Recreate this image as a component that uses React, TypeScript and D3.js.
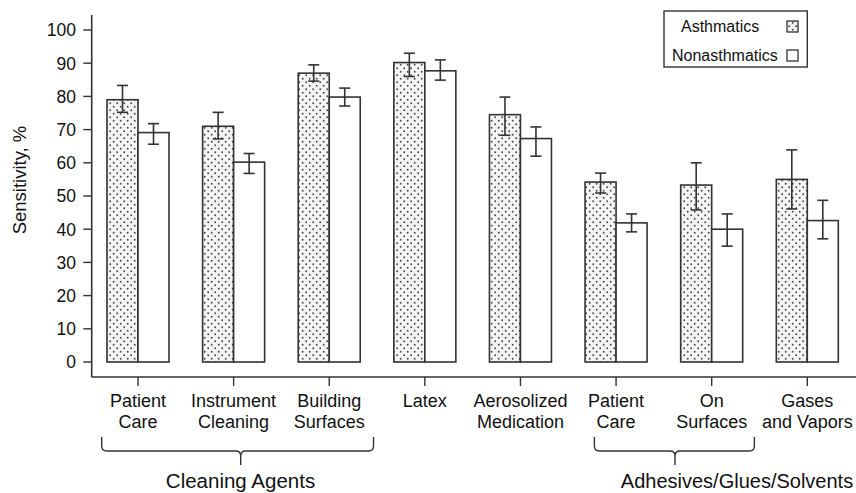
import React from "react";
import * as d3 from "d3";

const categories: string[][] = [
  ["Patient", "Care"],
  ["Instrument", "Cleaning"],
  ["Building", "Surfaces"],
  ["Latex"],
  ["Aerosolized", "Medication"],
  ["Patient", "Care"],
  ["On", "Surfaces"],
  ["Gases", "and Vapors"],
];
const asthmatics = [79, 71, 87, 90.2, 74.5, 54.2, 53.3, 55];
const asthmaLow = [75.2, 67.2, 84.6, 86, 68.3, 50.9, 45.8, 46.1];
const asthmaHigh = [83.3, 75.2, 89.5, 93, 79.8, 56.9, 60.0, 63.9];
const nonasthmatics = [69.1, 60.2, 79.8, 87.7, 67.3, 41.9, 40, 42.6];
const nonLow = [65.6, 56.8, 77.1, 84.9, 62, 39.2, 34.9, 37.1];
const nonHigh = [71.8, 62.8, 82.5, 91, 70.8, 44.6, 44.6, 48.7];
const yTicks = [0, 10, 20, 30, 40, 50, 60, 70, 80, 90, 100];
const groupLabels = ["Cleaning Agents", "Adhesives/Glues/Solvents"];
const seriesNames = ["Asthmatics", "Nonasthmatics"];

const FONT = "'Liberation Sans', Arial, Helvetica, sans-serif";
const LINE = "#333";

export default function App() {
  const W = 856, H = 493;
  const x = d3.scalePoint<number>().domain(d3.range(categories.length)).range([138, 807.3]);
  const y = d3.scaleLinear().domain([0, 100]).range([362, 30]);
  const bw = 31;
  const axisY = 377;
  const axisX = 91.7;

  const brace = (x1: number, x2: number, c: number) => {
    const y0 = 437, y1 = 451, y2 = 465, r = 5;
    const p = d3.path();
    p.moveTo(x1, y0);
    p.lineTo(x1, y1 - r);
    p.quadraticCurveTo(x1, y1, x1 + r, y1);
    p.lineTo(c - r, y1);
    p.quadraticCurveTo(c, y1, c, y1 + r);
    p.lineTo(c, y2);
    p.moveTo(c, y1 + r);
    p.quadraticCurveTo(c, y1, c + r, y1);
    p.lineTo(x2 - r, y1);
    p.quadraticCurveTo(x2, y1, x2, y1 - r);
    p.lineTo(x2, y0);
    return p.toString();
  };

  const errBar = (cx: number, lo: number, hi: number, key: string) => (
    <g key={key} stroke={LINE} strokeWidth={1.6}>
      <line x1={cx} x2={cx} y1={y(lo)} y2={y(hi)} />
      <line x1={cx - 5.5} x2={cx + 5.5} y1={y(lo)} y2={y(lo)} />
      <line x1={cx - 5.5} x2={cx + 5.5} y1={y(hi)} y2={y(hi)} />
    </g>
  );

  return (
    <svg width={W} height={H} style={{ position: "absolute", left: 0, top: 0, background: "#fff" }} fontFamily={FONT}>
      <defs>
        <pattern id="dots" patternUnits="userSpaceOnUse" width="7" height="7">
          <rect width="7" height="7" fill="#f4f4f4" />
          <circle cx="1.7" cy="1.7" r="0.95" fill="#4a4a4a" />
          <circle cx="5.2" cy="5.2" r="0.95" fill="#4a4a4a" />
        </pattern>
      </defs>
      {/* axes */}
      <line x1={axisX} x2={axisX} y1={15} y2={axisY} stroke={LINE} strokeWidth={1.6} />
      <line x1={axisX} x2={W} y1={axisY} y2={axisY} stroke={LINE} strokeWidth={1.6} />
      {yTicks.map((t) => (
        <g key={t}>
          <line x1={83.3} x2={axisX} y1={y(t)} y2={y(t)} stroke={LINE} strokeWidth={1.4} />
          <text x={76} y={y(t)} dy="0.36em" textAnchor="end" fontSize={17.5} fill="#111">{t}</text>
        </g>
      ))}
      <text transform="translate(26,180) rotate(-90)" textAnchor="middle" fontSize={18.5} fill="#111">Sensitivity, %</text>
      {/* bars */}
      {categories.map((c, i) => {
        const cx = x(i)!;
        return (
          <g key={i}>
            <rect x={cx - bw} y={y(asthmatics[i])} width={bw} height={y(0) - y(asthmatics[i])} fill="url(#dots)" stroke={LINE} strokeWidth={1.6} />
            <rect x={cx} y={y(nonasthmatics[i])} width={bw} height={y(0) - y(nonasthmatics[i])} fill="#fff" stroke={LINE} strokeWidth={1.6} />
            {errBar(cx - bw / 2, asthmaLow[i], asthmaHigh[i], "a" + i)}
            {errBar(cx + bw / 2, nonLow[i], nonHigh[i], "n" + i)}
            <line x1={cx} x2={cx} y1={axisY} y2={axisY + 9} stroke={LINE} strokeWidth={1.4} />
            {c.map((s, j) => (
              <text key={j} x={cx} y={407 + j * 21} textAnchor="middle" fontSize={18} fill="#111">{s}</text>
            ))}
          </g>
        );
      })}
      {/* braces */}
      <path d={brace(x(0)! - 36.3, x(2)! + 44.3, 240.7)} fill="none" stroke={LINE} strokeWidth={1.4} />
      <path d={brace(x(5)! - 21.7, x(6)! + 42.7, 675)} fill="none" stroke={LINE} strokeWidth={1.4} />
      <text x={240.5} y={488} textAnchor="middle" fontSize={20.5} fill="#111">{groupLabels[0]}</text>
      <text x={737} y={488} textAnchor="middle" fontSize={20} fill="#111">{groupLabels[1]}</text>
      {/* legend */}
      <rect x={664} y={11} width={143.3} height={56} fill="#fff" stroke={LINE} strokeWidth={1.4} />
      <text x={681} y={32} fontSize={16} fill="#111">{seriesNames[0]}</text>
      <text x={672} y={61} fontSize={16} fill="#111">{seriesNames[1]}</text>
      <rect x={787} y={21} width={11} height={11} fill="url(#dots)" stroke={LINE} strokeWidth={1.3} />
      <rect x={787} y={50} width={11} height={11} fill="#fff" stroke={LINE} strokeWidth={1.3} />
    </svg>
  );
}
